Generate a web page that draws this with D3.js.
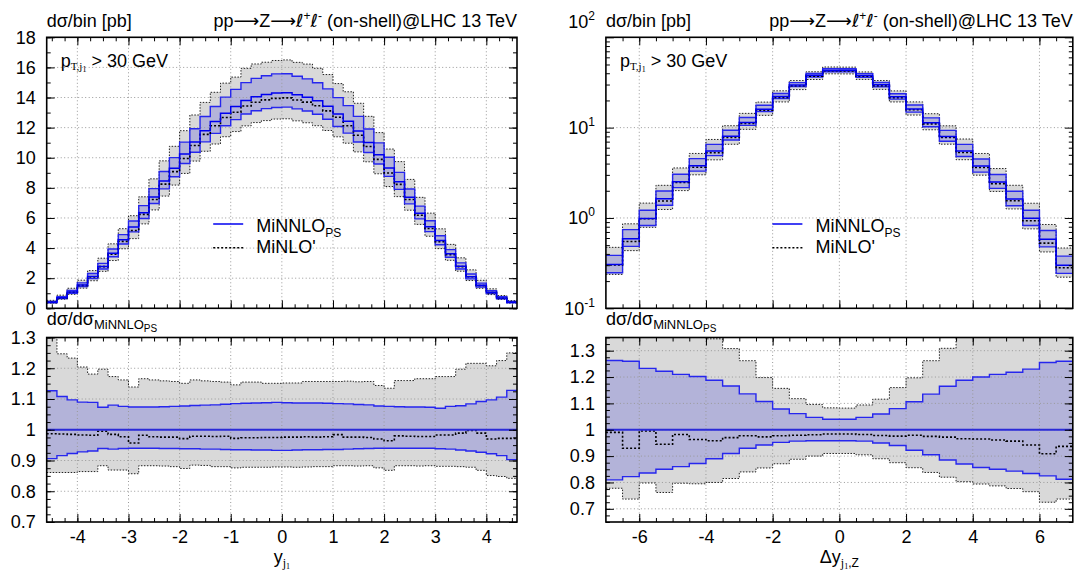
<!DOCTYPE html>
<html>
<head>
<meta charset="utf-8">
<script src="https://cdn.jsdelivr.net/npm/d3@7"></script>
<style>
  body { margin: 0; background: #fff; }
</style>
</head>
<body>
<svg id="chart" width="1078" height="572"></svg>
<script>
// ---- left panel: y_j1, bins of 0.2 ----
const yjEdges = [-4.6,-4.4,-4.2,-4.0,-3.8,-3.6,-3.4,-3.2,-3.0,-2.8,-2.6,-2.4,-2.2,-2.0,-1.8,-1.6,-1.4,-1.2,-1.0,-0.8,-0.6,-0.4,-0.2,
  0,0.2,0.4,0.6,0.8,1.0,1.2,1.4,1.6,1.8,2.0,2.2,2.4,2.6,2.8,3.0,3.2,3.4,3.6,3.8,4.0,4.2,4.4,4.6];
// MiNNLO_PS central value [pb]
const yjMinnlo = [0.40,0.70,1.08,1.55,2.12,2.78,3.65,4.55,5.40,6.35,7.40,8.45,9.30,10.25,11.05,11.80,12.40,12.95,13.40,13.80,14.05,14.20,14.30,
  14.32,14.18,14.02,13.78,13.42,12.90,12.42,11.78,11.02,10.20,9.32,8.40,7.38,6.32,5.42,4.50,3.62,2.80,2.10,1.53,1.07,0.69,0.41];
// everything below is ratio to MiNNLO_PS central
const yjMinnloUp = [1.127,1.108,1.097,1.090,1.089,1.073,1.080,1.076,1.074,1.074,1.074,1.075,1.076,1.077,1.079,1.080,1.081,1.083,1.085,1.086,1.087,1.088,1.089,
  1.088,1.087,1.087,1.087,1.086,1.085,1.084,1.082,1.081,1.077,1.076,1.075,1.074,1.074,1.073,1.070,1.076,1.078,1.084,1.092,1.097,1.106,1.128];
const yjMinnloDn = [0.906,0.916,0.923,0.928,0.931,0.939,0.937,0.939,0.940,0.940,0.940,0.939,0.939,0.938,0.938,0.937,0.937,0.936,0.935,0.935,0.934,0.934,0.933,
  0.933,0.934,0.935,0.935,0.936,0.936,0.937,0.938,0.939,0.940,0.940,0.940,0.940,0.940,0.940,0.938,0.937,0.934,0.931,0.927,0.922,0.916,0.903];
const yjMinlo = [0.987,0.986,0.985,0.983,0.982,0.995,0.985,0.977,0.957,0.982,0.977,0.976,0.976,0.971,0.979,0.979,0.978,0.979,0.972,0.974,0.974,0.975,0.975,
  0.976,0.976,0.977,0.976,0.977,0.984,0.976,0.976,0.975,0.970,0.964,0.980,0.979,0.978,0.978,0.983,0.983,0.989,0.998,0.989,0.970,0.972,0.972];
const yjMinloUp = [1.320,1.247,1.233,1.204,1.181,1.197,1.173,1.162,1.139,1.166,1.162,1.159,1.157,1.151,1.162,1.159,1.157,1.155,1.146,1.155,1.155,1.151,1.151,
  1.152,1.152,1.157,1.157,1.157,1.157,1.158,1.156,1.157,1.144,1.135,1.160,1.160,1.166,1.166,1.173,1.173,1.197,1.216,1.216,1.208,1.225,1.250];
const yjMinloDn = [0.861,0.861,0.861,0.864,0.864,0.883,0.869,0.869,0.857,0.883,0.883,0.882,0.880,0.874,0.885,0.884,0.880,0.880,0.876,0.878,0.878,0.878,0.879,
  0.879,0.878,0.879,0.880,0.880,0.883,0.883,0.882,0.883,0.876,0.868,0.883,0.883,0.882,0.883,0.881,0.881,0.880,0.878,0.868,0.851,0.848,0.842];

// ---- right panel: dy_j1,Z, bins of 0.5 ----
const dyEdges = [-7,-6.5,-6,-5.5,-5,-4.5,-4,-3.5,-3,-2.5,-2,-1.5,-1,-0.5,0,0.5,1,1.5,2,2.5,3,3.5,4,4.5,5,5.5,6,6.5,7];
const dyMinnlo = [0.305,0.59,0.987,1.63,2.52,3.78,5.5,8.03,11.4,16.0,22.1,29.7,37.9,43.3,
  43.2,37.8,29.8,22.0,16.1,11.3,8.0,5.5,3.75,2.5,1.62,0.99,0.58,0.30];
const dyMinnloUp = [1.263,1.260,1.233,1.222,1.210,1.202,1.188,1.166,1.136,1.107,1.079,1.061,1.047,1.040,
  1.040,1.047,1.060,1.080,1.106,1.135,1.165,1.188,1.200,1.210,1.218,1.230,1.255,1.260];
const dyMinnloDn = [0.810,0.822,0.836,0.850,0.860,0.872,0.890,0.910,0.930,0.942,0.952,0.957,0.958,0.958,
  0.958,0.957,0.950,0.940,0.922,0.905,0.885,0.870,0.857,0.850,0.843,0.834,0.825,0.812];
const dyMinlo = [0.990,0.930,0.995,0.945,0.982,0.963,0.958,0.970,0.977,0.973,0.977,0.979,0.981,0.984,
  0.984,0.982,0.978,0.976,0.979,0.975,0.972,0.966,0.965,0.961,0.957,0.942,0.909,0.937];
const dyMinloUp = [1.55,1.46,1.48,1.41,1.42,1.37,1.345,1.308,1.262,1.198,1.157,1.118,1.096,1.083,
  1.082,1.094,1.116,1.160,1.197,1.262,1.309,1.360,1.380,1.410,1.420,1.470,1.460,1.550];
const dyMinloDn = [0.778,0.737,0.798,0.762,0.797,0.795,0.800,0.815,0.840,0.855,0.871,0.888,0.900,0.910,
  0.910,0.905,0.890,0.875,0.856,0.838,0.820,0.803,0.794,0.787,0.777,0.765,0.725,0.737];

// ---- tick labels ----
const yjXTicks = [-4,-3,-2,-1,0,1,2,3,4];
const yjMainTicks = [0,2,4,6,8,10,12,14,16,18];
const yjRatioTicks = [0.7,0.8,0.9,1,1.1,1.2,1.3];
const dyXTicks = [-6,-4,-2,0,2,4,6];
const dyMainTicks = [0.1,1,10,100];
const dyMainExp = ["-1","0","1","2"];
const dyRatioTicks = [0.7,0.8,0.9,1,1.1,1.2,1.3];

const font = '"Liberation Sans", Arial, Helvetica, sans-serif';
const serif = '"Liberation Serif", "Times New Roman", serif';
const dejavu = '"DejaVu Sans", sans-serif';
const mainTop = 37.3, mainBottom = 308.3, ratioTop = 337.5, ratioBottom = 522;
const blue = "#0000f0", bandBlue = "#b3b3d9", bandGray = "#d9d9d9";

const svg = d3.select("#chart");
const defs = svg.append("defs");

// text with sub/superscripts; parts: [text, size, baseline shift, family]
function richText(g, x, y, parts, anchor) {
  const t = g.append("text")
    .attr("x", x).attr("y", y)
    .attr("text-anchor", anchor || "start")
    .attr("font-family", font)
    .attr("fill", "#000");
  let prev = 0;
  parts.forEach(p => {
    t.append("tspan")
      .attr("dy", p[2] - prev)
      .attr("font-size", p[1])
      .attr("font-family", p[3] || font)
      .text(p[0]);
    prev = p[2];
  });
  return t;
}

function stepPoints(bins, x, f0, f1) {
  const pts = bins.map(b => [x(b.x0), f0(b), f1 ? f1(b) : 0]);
  const last = bins[bins.length - 1];
  pts.push([x(last.x1), f0(last), f1 ? f1(last) : 0]);
  return pts;
}

const stepLine = d3.line().curve(d3.curveStepAfter);
const stepArea = d3.area().curve(d3.curveStepAfter)
  .x(p => p[0]).y0(p => p[1]).y1(p => p[2]);

function drawCurves(g, bins, x, y, ratio) {
  const s = b => ratio ? 1 : b.c;
  g.append("path")
    .attr("d", stepArea(stepPoints(bins, x, b => y(s(b) * b.loDn), b => y(s(b) * b.loUp))))
    .attr("fill", bandGray);
  g.append("path")
    .attr("d", stepArea(stepPoints(bins, x, b => y(s(b) * b.dn), b => y(s(b) * b.up))))
    .attr("fill", bandBlue);
  return function lines() {
    [b => b.loDn, b => b.loUp].forEach(f => {
      g.append("path")
        .attr("d", stepLine(stepPoints(bins, x, b => y(s(b) * f(b)))))
        .attr("fill", "none").attr("stroke", "#222")
        .attr("stroke-width", 1).attr("stroke-dasharray", "1.5,1.5");
    });
    [b => b.dn, b => b.up].forEach(f => {
      g.append("path")
        .attr("d", stepLine(stepPoints(bins, x, b => y(s(b) * f(b)))))
        .attr("fill", "none").attr("stroke", "#2626ee").attr("stroke-width", 1.4);
    });
    g.append("path")
      .attr("d", stepLine(stepPoints(bins, x, b => y(s(b) * b.lo))))
      .attr("fill", "none").attr("stroke", "#000")
      .attr("stroke-width", 1.6).attr("stroke-dasharray", "2,2");
    g.append("path")
      .attr("d", stepLine(stepPoints(bins, x, b => y(ratio ? b.c / b.c : b.c))))
      .attr("fill", "none").attr("stroke", ratio ? "#2a2ad8" : blue)
      .attr("stroke-width", ratio ? 2.2 : 1.5);
  };
}

function drawGrid(g, x, y, xVals, yVals, x0, x1, top, bottom) {
  xVals.forEach(v => {
    g.append("line").attr("x1", x(v)).attr("x2", x(v)).attr("y1", top).attr("y2", bottom)
      .attr("stroke", "#999").attr("stroke-width", 1).attr("stroke-dasharray", "1,2.5");
  });
  yVals.forEach(v => {
    g.append("line").attr("x1", x0).attr("x2", x1).attr("y1", y(v)).attr("y2", y(v))
      .attr("stroke", "#999").attr("stroke-width", 1).attr("stroke-dasharray", "1,2.5");
  });
}

function drawAxes(g, x, y, top, bottom, left, right, cfg) {
  const put = (axis, tx, ty) => {
    const a = g.append("g").attr("transform", `translate(${tx},${ty})`).call(axis);
    a.select(".domain").remove();
    a.attr("font-size", null).attr("font-family", null);
    a.selectAll("line").attr("stroke", "#000").attr("stroke-width", 1);
    a.selectAll("text").attr("font-size", 18).attr("font-family", font).attr("fill", "#000");
    return a;
  };
  put(d3.axisBottom(x).tickValues(cfg.xMinor).tickSize(-4).tickFormat(""), 0, bottom);
  put(d3.axisBottom(x).tickValues(cfg.xTicks).tickSize(-8).tickPadding(8)
    .tickFormat(cfg.xLabels ? d => String(d) : ""), 0, bottom);
  put(d3.axisTop(x).tickValues(cfg.xMinor).tickSize(-4).tickFormat(""), 0, top);
  put(d3.axisTop(x).tickValues(cfg.xTicks).tickSize(-8).tickFormat(""), 0, top);
  put(d3.axisLeft(y).tickValues(cfg.yMinor).tickSize(-4).tickFormat(""), left, 0);
  put(d3.axisLeft(y).tickValues(cfg.yTicks).tickSize(-8).tickPadding(11)
    .tickFormat(cfg.yFormat || ""), left, 0);
  put(d3.axisRight(y).tickValues(cfg.yMinor).tickSize(-4).tickFormat(""), right, 0);
  put(d3.axisRight(y).tickValues(cfg.yTicks).tickSize(-8).tickFormat(""), right, 0);
  g.append("rect")
    .attr("x", left).attr("y", top)
    .attr("width", right - left).attr("height", bottom - top)
    .attr("fill", "none").attr("stroke", "#000").attr("stroke-width", 1.6);
}

function clipRect(id, x0, x1, top, bottom) {
  defs.append("clipPath").attr("id", id)
    .append("rect").attr("x", x0).attr("y", top)
    .attr("width", x1 - x0).attr("height", bottom - top);
  return `url(#${id})`;
}

function renderPanel(p, idx) {
  const bins = p.central.map((c, i) => ({
    x0: p.edges[i], x1: p.edges[i + 1], c,
    up: p.up[i], dn: p.dn[i], lo: p.lo[i], loUp: p.loUp[i], loDn: p.loDn[i]
  }));

  const x = d3.scaleLinear()
    .domain([p.edges[0], p.edges[p.edges.length - 1]])
    .range([p.x0, p.x1]);
  const yMain = (p.log ? d3.scaleLog() : d3.scaleLinear())
    .domain(p.yDomain).range([mainBottom, mainTop]);
  const yRatio = d3.scaleLinear()
    .domain(p.rDomain).range([ratioBottom, ratioTop]);

  // main plot
  const gm = svg.append("g").attr("clip-path", clipRect("cm" + idx, p.x0, p.x1, mainTop, mainBottom));
  const mainLines = drawCurves(gm, bins, x, yMain, false);
  drawGrid(gm, x, yMain, p.xTicks, p.yGrid, p.x0, p.x1, mainTop, mainBottom);
  mainLines();

  const am = svg.append("g");
  drawAxes(am, x, yMain, mainTop, mainBottom, p.x0, p.x1, {
    xTicks: p.xTicks, xMinor: p.xMinor, xLabels: false,
    yTicks: p.yTicks, yMinor: p.yMinor,
    yFormat: p.log ? "" : d => String(d)
  });
  if (p.log) {
    p.yTicks.forEach((v, i) => {
      const yy = yMain(v) + 6.4 - (v === p.yDomain[1] ? 16 : 0);
      richText(am, p.x0 - 11, yy, [["10", 18, 0], [p.yExp[i], 12, -8]], "end");
    });
  }

  // ratio plot
  const gr = svg.append("g").attr("clip-path", clipRect("cr" + idx, p.x0, p.x1, ratioTop, ratioBottom));
  const ratioLines = drawCurves(gr, bins, x, yRatio, true);
  drawGrid(gr, x, yRatio, p.xTicks, p.rGrid, p.x0, p.x1, ratioTop, ratioBottom);
  ratioLines();

  const ar = svg.append("g");
  drawAxes(ar, x, yRatio, ratioTop, ratioBottom, p.x0, p.x1, {
    xTicks: p.xTicks, xMinor: p.xMinor, xLabels: true,
    yTicks: p.rTicks, yMinor: p.rMinor, yFormat: d => String(d)
  });

  // texts
  const t = svg.append("g");
  richText(t, p.x0, 27, [["d\u03c3/bin [pb]", 18, 0]]);
  richText(t, p.x1, 27, [
    ["pp", 18, 0], ["\u27f6", 18, 0, dejavu], ["Z", 18, 0], ["\u27f6", 18, 0, dejavu],
    ["\u2113", 18, 0, dejavu], ["+", 12, -7], ["\u2113", 18, 0, dejavu], ["-", 12, -7],
    [" (on-shell)@LHC 13 TeV", 18, 0]
  ], "end");
  richText(t, p.x0 + 14, 67, [
    ["p", 18, 0], ["T,j", 11, 3, serif], ["1", 8, 5, serif], [" > 30 GeV", 18, 0]
  ]);
  richText(t, p.x0, 325, [["d\u03c3/d\u03c3", 18, 0], ["MiNNLO", 13, 4], ["PS", 10, 7]]);
  richText(t, (p.x0 + p.x1) / 2, 563, p.xLabel, "middle");

  // legend
  const lx = p.x0 + 166.5;
  t.append("line").attr("x1", lx).attr("x2", lx + 30).attr("y1", 224).attr("y2", 224)
    .attr("stroke", blue).attr("stroke-width", 1.5);
  richText(t, lx + 43, 231.7, [["MiNNLO", 18, 0], ["PS", 12, 5]]);
  t.append("line").attr("x1", lx).attr("x2", lx + 30).attr("y1", 247.7).attr("y2", 247.7)
    .attr("stroke", "#000").attr("stroke-width", 1.6).attr("stroke-dasharray", "2,2");
  richText(t, lx + 43, 253.3, [["MiNLO'", 18, 0]]);
}

const logMinor = [];
[0.1, 1, 10].forEach(d => { for (let m = 2; m <= 9; m++) logMinor.push(d * m); });

const panels = [
  {
    x0: 46.7, x1: 517, edges: yjEdges, central: yjMinnlo,
    up: yjMinnloUp, dn: yjMinnloDn, lo: yjMinlo, loUp: yjMinloUp, loDn: yjMinloDn,
    log: false, yDomain: [0, 18], yTicks: yjMainTicks, yMinor: d3.range(0, 18.01, 1),
    yGrid: yjMainTicks.slice(1, -1),
    xTicks: yjXTicks, xMinor: d3.range(-4.5, 4.51, 0.25),
    rDomain: [0.7, 1.3], rTicks: yjRatioTicks, rMinor: d3.range(0.7, 1.3001, 0.025),
    rGrid: yjRatioTicks.slice(1, -1),
    xLabel: [["y", 18, 0], ["j", 12, 4, serif], ["1", 8, 6, serif]]
  },
  {
    x0: 605.9, x1: 1072.8, edges: dyEdges, central: dyMinnlo,
    up: dyMinnloUp, dn: dyMinnloDn, lo: dyMinlo, loUp: dyMinloUp, loDn: dyMinloDn,
    log: true, yDomain: [0.1, 100], yTicks: dyMainTicks, yExp: dyMainExp, yMinor: logMinor,
    yGrid: dyMainTicks.slice(1, -1),
    xTicks: dyXTicks, xMinor: d3.range(-6.5, 6.51, 0.5),
    rDomain: [0.65, 1.35], rTicks: dyRatioTicks, rMinor: d3.range(0.65, 1.3501, 0.025),
    rGrid: dyRatioTicks,
    xLabel: [["\u0394y", 18, 0], ["j", 12, 4, serif], ["1", 8, 6, serif], [",Z", 12, 4]]
  }
];

panels.forEach(renderPanel);
</script>
</body>
</html>
